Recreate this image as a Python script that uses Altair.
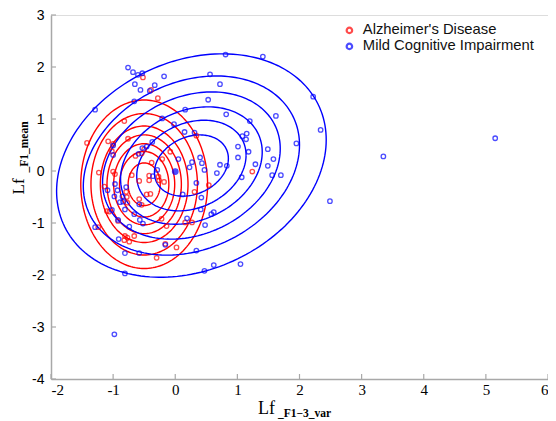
import altair as alt
import numpy as np
import pandas as pd

groups = ["Alzheimer's Disease", "Mild Cognitive Impairment"]
colors = ["#ff0000", "#0000ff"]

ad_points = [(-0.52,1.80),(-0.39,1.56),(-0.28,1.40),(-0.82,0.96),(-1.42,0.54),(-1.08,0.57),(-1.00,0.52),
             (-0.76,0.62),(-1.02,0.38),(-0.50,0.42),(-0.64,0.29),(-0.08,0.37),(0.34,0.68),(-0.21,0.23),
             (-0.38,0.16),(-1.23,-0.03),(-1.00,-0.01),(-0.97,-0.06),(-0.70,-0.08),(-0.42,-0.09),(-0.42,-0.18),
             (-0.27,-0.11),(-0.26,-0.18),(-0.58,-0.19),(-0.18,-0.21),(1.24,-0.01),(0.54,-0.27),(0.31,-0.40),
             (-1.14,-0.30),(-0.79,-0.40),(-0.46,-0.45),(-0.40,-0.44),(-1.10,-0.77),(-1.06,-0.78),(-0.78,-0.50),
             (-0.77,-0.61),(-0.58,-0.54),(-0.54,-0.65),(-1.24,-1.08),(-0.92,-0.96),(-0.81,-1.25),(-0.77,-1.28),
             (-0.74,-1.36),(-0.82,-1.33),(-0.66,-1.25),(-0.22,-0.92),(-0.14,-1.06),(0.16,-0.99),(0.27,-0.99),
             (-0.16,-1.40),(0.02,-1.47),(-0.30,-1.67),(-0.54,0.34)]

mci_points = [(-0.76,1.99),(-0.68,1.90),(-0.60,1.85),(-0.53,1.88),(-0.18,1.82),(-0.65,1.67),(-0.56,1.56),
              (-0.41,1.54),(-0.33,1.65),(-0.66,1.34),(-1.29,1.18),(0.56,1.86),(0.72,1.67),(0.53,1.37),
              (0.81,2.24),(1.41,2.20),(0.16,1.18),(-0.21,1.01),(-0.02,0.90),(0.82,1.09),(1.20,0.96),
              (1.62,1.06),(0.15,0.75),(0.31,0.74),(-0.37,0.56),(-0.46,0.47),(1.08,0.67),(1.15,0.72),
              (1.14,0.61),(1.01,0.47),(1.18,0.37),(1.49,0.42),(1.95,0.53),(0.40,0.26),(0.27,0.17),
              (0.43,0.15),(0.05,0.23),(0.23,0.07),(0.47,0.02),(0.72,0.12),(0.83,0.10),(0.67,-0.04),
              (1.01,0.26),(1.29,0.13),(1.49,0.10),(1.58,0.23),(1.56,-0.08),(1.70,-0.08),(1.07,-0.12),
              (-1.00,0.31),(-0.59,0.33),(-1.00,0.49),(-0.29,0.02),(-0.36,-0.10),(0.34,-0.23),(0.12,-0.45),
              (0.42,-0.51),(-0.97,-0.25),(-1.09,-0.37),(-0.93,-0.37),(-0.79,-0.31),(0.41,-0.74),(0.58,-0.83),
              (0.62,-0.79),(0.19,-0.91),(0.48,-1.04),(-0.81,-0.74),(-0.66,-0.83),(-0.57,-0.94),(-0.52,-1.01),
              (-0.92,-0.94),(-1.29,-1.08),(-0.74,-1.07),(-0.91,-1.31),(-1.02,-0.75),(-0.84,-0.59),(-0.89,-0.60),
              (-0.98,-0.49),(-0.58,-0.64),(-0.16,-1.42),(-0.58,-1.58),(-0.81,-1.58),(0.34,-1.53),(-0.81,-1.97),
              (0.47,-1.92),(0.62,-1.81),(1.05,-1.79),(-0.98,-3.14),(2.22,1.43),(2.34,0.79),(3.35,0.28),
              (5.15,0.63),(2.49,-0.58),(-0.53,0.44),(-0.85,-0.49)]

mci_filled = [(0.0, -0.01)]

# contour ellipse parameters (centre, axis scales, correlation, contour radii)
ell_center_x = [-0.50, 0.26]
ell_center_y = [-0.255, 0.105]
ell_sx = [0.63, 1.0]
ell_sy = [1.0, 0.99]
ell_rho = [0.0, 0.23]
ad_levels = [1.62, 1.36, 1.12, 0.95, 0.78, 0.63, 0.41]
mci_levels = [2.17, 1.74, 1.43, 1.14, 0.88, 0.595]

x_ticks = [-2, -1, 0, 1, 2, 3, 4, 5, 6]
y_ticks = [-4, -3, -2, -1, 0, 1, 2, 3]

x_title = ["Lf", "_F1\u22123_var"]
y_title = ["Lf", "_F1_mean"]

W, H = 497, 364

# ---------- tables ----------
pts = pd.DataFrame(
    [{"x": p[0], "y": p[1], "group": groups[0]} for p in ad_points]
    + [{"x": p[0], "y": p[1], "group": groups[1]} for p in mci_points]
)
filled = pd.DataFrame([{"x": p[0], "y": p[1], "group": groups[1]} for p in mci_filled])

t = np.linspace(0, 2 * np.pi, 181)
rows = []
for gi, levels in enumerate([ad_levels, mci_levels]):
    rho = ell_rho[gi]
    for li, r in enumerate(levels):
        ex = ell_center_x[gi] + r * ell_sx[gi] * np.cos(t)
        ey = ell_center_y[gi] + r * ell_sy[gi] * (rho * np.cos(t) + np.sqrt(1 - rho ** 2) * np.sin(t))
        for k in range(len(t)):
            rows.append({"x": ex[k], "y": ey[k], "group": groups[gi], "eid": f"{gi}-{li}", "k": k})
ell = pd.DataFrame(rows)

xt = pd.DataFrame({"x": x_ticks})
yt = pd.DataFrame({"y": y_ticks})

color_scale = alt.Scale(domain=groups, range=colors)
legend = alt.Legend(title=None, orient="none", legendX=291, legendY=8,
                    symbolType="circle", symbolSize=30, symbolStrokeWidth=2.2,
                    symbolFillColor="transparent", labelLimit=0,
                    labelFont="Liberation Sans", labelFontSize=14.8,
                    labelColor="#111", labelOffset=6, rowPadding=0)
C = alt.Color("group:N", scale=color_scale, legend=legend)

x_axis = alt.Axis(values=x_ticks, ticks=False, grid=False, title=None,
                  labelFont="Liberation Serif", labelFontSize=15, labelColor="#000",
                  domainColor="#a8a8a8", domainWidth=1.5, labelPadding=3,
                  labelExpr="'' + datum.value")
y_axis = alt.Axis(values=y_ticks, ticks=False, grid=False, title=y_title[0],
                  titleFont="Liberation Serif", titleFontSize=17, titleFontWeight="normal",
                  titleColor="#000", titleAngle=270, titleAlign="left", titleBaseline="alphabetic",
                  titleX=-28, titleY=179,
                  labelFont="Liberation Sans", labelFontSize=14, labelColor="#000",
                  domainColor="#a8a8a8", domainWidth=1.5, labelPadding=7,
                  labelExpr="'' + datum.value")
y_scale = alt.Scale(domain=[-4, 3], nice=False, zero=False)

X = alt.X("x:Q", scale=alt.Scale(domain=[-2, 6], nice=False, zero=False), axis=x_axis)
Y = alt.Y("y:Q", scale=y_scale, axis=y_axis)

ellipses = alt.Chart(ell).mark_line(strokeWidth=1.4, clip=True).encode(
    x=X, y=Y, color=C, detail="eid:N", order="k:Q",
)

points = alt.Chart(pts).mark_point(shape="circle", filled=False, size=20, strokeWidth=1.3).encode(
    x=X, y=Y, color=C,
)

filled_pt = alt.Chart(filled).mark_point(shape="circle", filled=False, size=30, strokeWidth=1.3).encode(
    x=X, y=Y, color=C, fill=alt.value("#0000ff"),
)

xticks = alt.Chart(xt).mark_rule(color="#a8a8a8", strokeWidth=1.2).encode(
    x=X, y=alt.value(H), y2=alt.value(H - 5))
yticks = alt.Chart(yt).mark_rule(color="#a8a8a8", strokeWidth=1.2).encode(
    y=Y, x=alt.value(0), x2=alt.value(5))

lab = pd.DataFrame({"a": [x_title[0]], "b": [x_title[1]]})
xt_main = alt.Chart(lab).mark_text(font="Liberation Serif", fontSize=18, align="left",
                                   baseline="alphabetic", color="#000").encode(
    text="a:N", x=alt.value(207), y=alt.value(399))
xt_sub = alt.Chart(lab).mark_text(font="Liberation Serif", fontSize=11.5, fontWeight="bold", align="left",
                                  baseline="alphabetic", color="#000").encode(
    text="b:N", x=alt.value(227), y=alt.value(402))

main = alt.layer(ellipses, points, filled_pt, xticks, yticks, xt_main, xt_sub)

# invisible layer that only carries the rotated subscript of the y title (on a blank right axis)
sub_axis = alt.Axis(orient="right", title=y_title[1], labels=False, ticks=False, domain=False, grid=False,
                    titleFont="Liberation Serif", titleFontSize=11.5, titleFontWeight="bold",
                    titleColor="#000", titleAngle=270, titleAlign="left", titleBaseline="alphabetic",
                    titleX=-24 - W, titleY=157)
sub_layer = alt.Chart(yt).mark_point(opacity=0).encode(
    y=alt.Y("y:Q", scale=y_scale, axis=sub_axis))

chart = alt.layer(main, sub_layer).resolve_axis(y="independent").properties(
    width=W, height=H,
    autosize=alt.AutoSizeParams(type="none"),
    padding={"left": 43, "top": 7, "right": 0, "bottom": 42},
).configure_view(fill="#f8f9f8", stroke=None).configure(background="#ffffff")

chart.save("out.html", embed_options={"renderer": "svg", "actions": False})
